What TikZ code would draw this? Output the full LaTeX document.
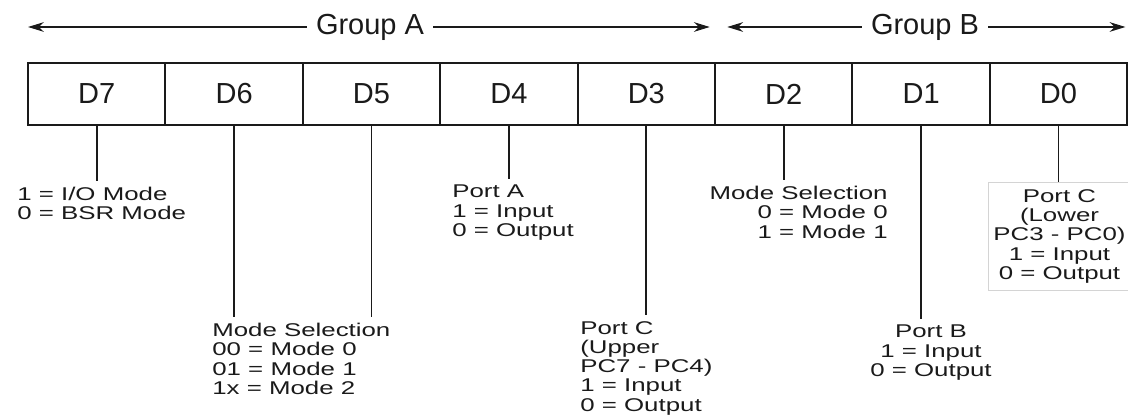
\documentclass[tikz,border=0pt]{standalone}
\usepackage{fontspec}
\setmainfont{Liberation Sans}
\newfontfamily\notefont[FakeStretch=1.4]{Liberation Sans}
\usetikzlibrary{arrows.meta, positioning}
\definecolor{inkmain}{HTML}{1A1A1A}
\definecolor{framegray}{HTML}{D4D4D4}
\tikzstyle{cell} = [draw=inkmain, line width=1.2pt, minimum width=2.748cm, minimum height=1.24cm, inner sep=0pt, outer sep=0pt, text=inkmain, font=\fontsize{16.5}{18}\selectfont]
\tikzstyle{group} = [inner xsep=5pt, text=inkmain, font=\fontsize{16.5}{18}\selectfont]
\tikzstyle{note} = [align=left, inner xsep=0pt, inner ysep=3pt, text=inkmain, font=\notefont\fontsize{10.5}{11}\selectfont]
\tikzstyle{arrow} = [line width=0.8pt, -{Stealth[length=9pt, width=5.5pt]}, color=inkmain]
\tikzstyle{leader} = [line width=1pt, color=inkmain]

\begin{document}
\begin{tikzpicture}
    \useasboundingbox (0,0) rectangle (22.56,8.4);

    % control word bits
    \node[cell] (d7) at (1.934,6.52) {D7};
    \node[cell, right=0pt of d7] (d6) {D6};
    \node[cell, right=0pt of d6] (d5) {D5};
    \node[cell, right=0pt of d5] (d4) {D4};
    \node[cell, right=0pt of d4] (d3) {D3};
    \node[cell, right=0pt of d3] (d2) {D2};
    \node[cell, right=0pt of d2] (d1) {D1};
    \node[cell, right=0pt of d1] (d0) {D0};

    % groups
    \node[group] (grpa) at (7.40,7.86) {Group A};
    \node[group] (grpb) at (18.50,7.86) {Group B};
    \draw[arrow] (grpa.west) -- (grpa.west -| d7.west);
    \draw[arrow] (grpa.east) -- ([xshift=-3pt]grpa.east -| d3.east);
    \draw[arrow] (grpb.west) -- ([xshift=7pt]grpb.west -| d2.west);
    \draw[arrow] (grpb.east) -- ([xshift=-1pt]grpb.east -| d0.east);

    % bit meanings
    \node[note, anchor=north west] (n7) at (0.34,4.77) {1 = I/O Mode\\0 = BSR Mode};
    \node[note, anchor=north west] (n65) at (4.24,2.05) {Mode Selection\\00 = Mode 0\\01 = Mode 1\\1x = Mode 2};
    \node[note, anchor=north west] (n4) at (9.04,4.81) {Port A\\1 = Input\\0 = Output};
    \node[note, anchor=north west] (n3) at (11.60,2.09) {Port C\\(Upper\\PC7 - PC4)\\1 = Input\\0 = Output};
    \node[note, anchor=north east, align=right] (n2) at (17.76,4.79) {Mode Selection\\0 = Mode 0\\1 = Mode 1};
    \node[note, anchor=north, align=center] (n1) at (18.62,2.01) {Port B\\1 = Input\\0 = Output};
    \node[note, anchor=north, align=center, draw=framegray, inner xsep=3pt, inner ysep=4pt] (n0) at (21.19,4.76) {Port C\\(Lower\\PC3 - PC0)\\1 = Input\\0 = Output};

    \draw[leader] (d7.south) -- (d7.south |- n7.north);
    \draw[leader] (d6.south) -- (d6.south |- n65.north);
    \draw[leader] (d5.south) -- (d5.south |- n65.north);
    \draw[leader] (d4.south) -- (d4.south |- n4.north);
    \draw[leader] (d3.south) -- (d3.south |- n3.north);
    \draw[leader] (d2.south) -- (d2.south |- n2.north);
    \draw[leader] (d1.south) -- (d1.south |- n1.north);
    \draw[leader] (d0.south) -- (d0.south |- n0.north);
\end{tikzpicture}
\end{document}
